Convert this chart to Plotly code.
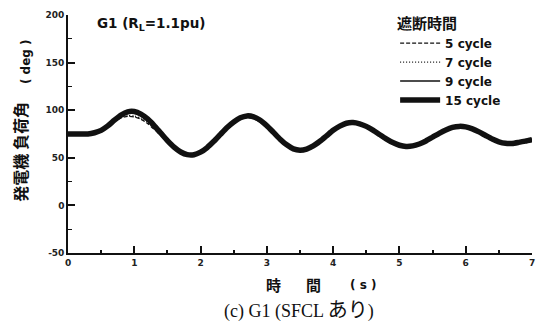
import plotly.graph_objects as go

# Time axis (s)
time_s = [round(i * 0.1, 1) for i in range(71)]

# Generator load angle (deg) for each fault-clearing time
angle_5cyc = [75, 75, 75, 75, 76.5, 79, 83.5, 88.5, 92, 93.5,
              93, 90.5, 86, 80, 73.5, 66.5, 60.5, 56, 54, 54.5,
              57.5, 62.5, 69, 76, 82.5, 88, 91.5, 92.5, 91, 87.5,
              81.5, 74.5, 67.5, 62, 58.8, 58.2, 60, 63.8, 68.8, 74.5,
              80, 84, 86.2, 86.2, 84.5, 81.5, 77.3, 72.5, 68, 64.5,
              62.5, 62, 63, 65.5, 68.5, 71.8, 76, 79.8, 82.2, 82.6,
              81.5, 79, 75.5, 71.8, 68.5, 66.2, 65.2, 65.5, 66.8, 68.3,
              70]
angle_7cyc = [75, 75, 75, 75, 76.5, 79, 83.7, 89, 92.8, 94.3,
              94, 91.5, 87, 81, 74.5, 67.3, 61, 56.3, 53.9, 54.2,
              57, 62, 68.5, 75.6, 82.2, 88, 91.8, 93, 91.8, 88.3,
              82.3, 75.3, 68.2, 62.5, 59, 58.1, 59.7, 63.4, 68.4, 74.1,
              79.7, 83.9, 86.3, 86.5, 85, 82, 77.9, 73.1, 68.6, 65,
              62.8, 62, 62.8, 65, 68.2, 71.5, 75.8, 79.6, 82.2, 82.8,
              81.8, 79.4, 76, 72.3, 68.9, 66.5, 65.2, 65.4, 66.6, 68.1,
              69.8]
angle_9cyc = [75, 75, 75, 75, 76.5, 79, 83.8, 89.5, 94, 96.8,
              97.2, 94.8, 89.8, 83, 75.5, 67.8, 61, 56, 53.4, 53.4,
              56.2, 61.2, 67.8, 75, 82, 87.8, 92, 93.8, 92.8, 89.3,
              83.3, 76.2, 69, 63.2, 59.3, 58.1, 59.4, 62.9, 67.9, 73.6,
              79.3, 83.6, 86.3, 86.8, 85.4, 82.5, 78.5, 73.8, 69.2, 65.5,
              63, 62, 62.6, 64.6, 67.9, 71.4, 75.5, 79.4, 82, 82.9,
              82.2, 79.9, 76.6, 72.8, 69.3, 66.7, 65.2, 65.3, 66.4, 67.8,
              69.4]
angle_15cyc = [75, 75, 75, 75, 76.3, 78.8, 83.5, 89.5, 94.8, 98.3,
               98.6, 95.9, 90.8, 83.9, 76, 68.1, 61.2, 56.1, 53.3, 53.2,
               55.9, 60.8, 67.3, 74.6, 81.8, 87.7, 92.1, 94, 93.1, 89.5,
               83.7, 76.7, 69.6, 63.6, 59.4, 58, 59.2, 62.5, 67.4, 73.1,
               78.9, 83.3, 86.3, 87, 85.7, 83, 79.1, 74.5, 69.9, 66,
               63.2, 62, 62.5, 64.5, 67.7, 71.7, 75.7, 79.3, 81.9, 83,
               82.5, 80.4, 77.2, 73.4, 69.7, 66.8, 65.2, 65.1, 66.2, 67.5,
               69]

series_names = ["5 cycle", "7 cycle", "9 cycle", "15 cycle"]
series_values = [angle_5cyc, angle_7cyc, angle_9cyc, angle_15cyc]
series_dash = ["4px,2px", "1px,2px", "solid", "solid"]
series_width = [1.3, 1.3, 1.6, 5.5]

x_ticks = [0, 1, 2, 3, 4, 5, 6, 7]
y_ticks = [-50, 0, 50, 100, 150, 200]
y_tick_text = ["-50", "0", "50", "100", "150", "200"]

SANS = "DejaVu Sans, Noto Sans CJK JP, sans-serif"
CJK = "Noto Sans CJK JP, DejaVu Sans, sans-serif"
INK = "#111111"

fig = go.Figure()
for name, vals, dash, width in zip(series_names, series_values, series_dash, series_width):
    fig.add_trace(go.Scatter(
        x=time_s, y=vals, name=name, mode="lines",
        line=dict(color=INK, dash=dash, width=width, shape="spline", smoothing=0.6),
    ))

axis_common = dict(
    showgrid=False, zeroline=False, showline=True, linecolor=INK, linewidth=1.6,
    ticks="inside", ticklen=7, tickwidth=1.5, tickcolor=INK,
    tickfont=dict(family=SANS, size=9, color="#222222", weight="bold"),
    mirror=False,
)

fig.update_xaxes(range=[0, 7], tickvals=x_ticks,
                 minor=dict(dtick=0.5, ticks="inside", ticklen=3, tickwidth=1.5, tickcolor=INK),
                 **axis_common)
fig.update_yaxes(range=[-50, 200], tickvals=y_ticks, ticktext=y_tick_text,
                 minor=dict(dtick=25, ticks="inside", ticklen=4, tickwidth=1.2, tickcolor=INK),
                 **axis_common)


def px_x(px):
    # pixel column -> paper x
    return (px - 68) / 467


def px_y(py):
    # pixel row -> paper y
    return (253 - py) / 239


def label(text, x, y, size, family=CJK, angle=0, anchor="center", bold=True):
    return dict(text=text, xref="paper", yref="paper", x=px_x(x), y=px_y(y),
                xanchor=anchor, yanchor="middle", textangle=angle, showarrow=False,
                font=dict(family=family, size=size, color=INK,
                          weight="bold" if bold else "normal"))


fig.update_layout(
    width=544, height=322,
    margin=dict(l=68, r=9, t=14, b=69),
    paper_bgcolor="white", plot_bgcolor="white",
    showlegend=True,
    legend=dict(
        x=0.705, y=1.025, xanchor="left", yanchor="top",
        bgcolor="rgba(0,0,0,0)", borderwidth=0,
        title=dict(text="遮断時間", font=dict(family=CJK, size=15, color=INK, weight="bold")),
        font=dict(family=SANS, size=12, color=INK, weight="bold"),
        itemwidth=40, tracegroupgap=0,
    ),
    annotations=[
        label("G1 (R<sub>L</sub>=1.1pu)", 95, 23, 13.5, family=SANS, anchor="left"),
        label("( deg )", 26, 61, 12, family=SANS, angle=-90),
        label("発電機 負荷角", 20, 151, 16, angle=-90),
        label("時", 275, 285, 15),
        label("間", 315, 285, 15),
        label("( s )", 365, 285, 12, family=SANS),
        label("(c) G1 (SFCL <span style='font-size:20px'>あり</span>)", 223, 311, 18,
              family="Liberation Serif, Noto Sans CJK JP, serif", anchor="left", bold=False),
    ],
)

fig.write_html("out.html")
